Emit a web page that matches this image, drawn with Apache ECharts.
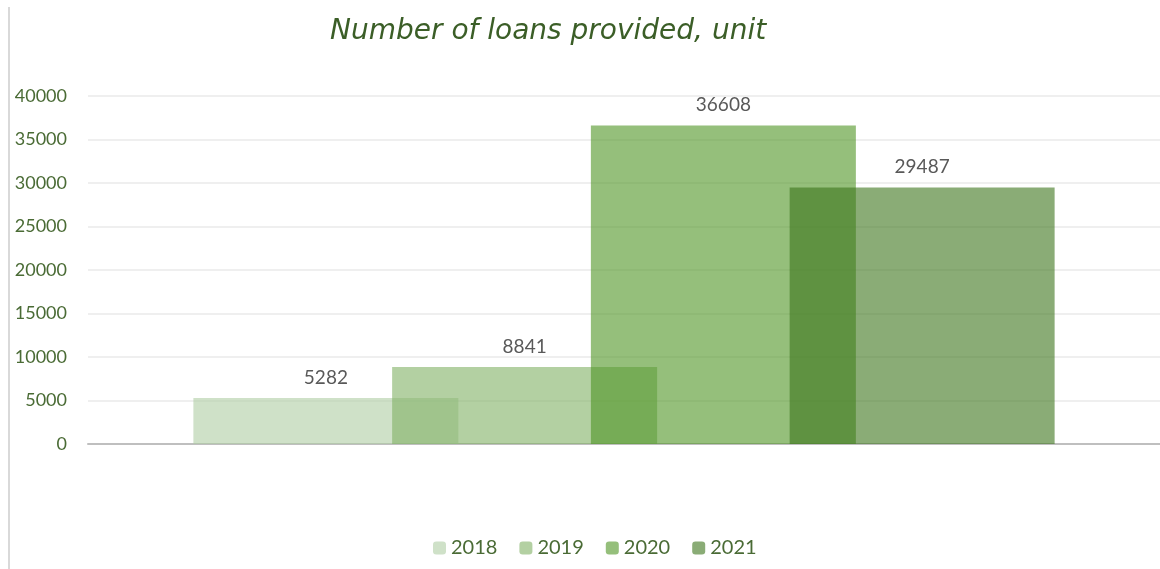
<!DOCTYPE html>
<html>
<head>
<meta charset="utf-8">
<script src="https://cdn.jsdelivr.net/npm/echarts@6/dist/echarts.min.js"></script>
<style>
  html, body { margin: 0; padding: 0; background: #fff; }
  #frame { position: absolute; left: 8px; top: 7px; width: 2px; height: 562px; background: #d9d9d9; }
  #chart { width: 1160px; height: 569px; }
</style>
</head>
<body>
<div id="chart"></div>
<div id="frame"></div>
<script>
// data
var categories = ['']
var years = ['2018', '2019', '2020', '2021']
var loans2018 = [5282]
var loans2019 = [8841]
var loans2020 = [36608]
var loans2021 = [29487]
var seriesColors = ['rgba(175,205,163,0.6)', 'rgba(128,177,100,0.6)', 'rgba(78,148,35,0.6)', 'rgba(60,116,26,0.6)']

var chart = echarts.init(document.getElementById('chart'))

function makeBar(name, values, color) {
  return {
    name: name,
    type: 'bar',
    data: values,
    barWidth: 265,
    barGap: '-25%',
    itemStyle: { color: color },
    label: {
      show: true,
      position: 'top',
      distance: 11,
      color: '#595959',
      fontSize: 19,
      fontFamily: 'Lato'
    }
  }
}

chart.setOption({
  animation: false,
  title: {
    text: 'Number of loans provided, unit',
    left: 325,
    top: 13,
    textStyle: {
      color: '#3b5e27',
      fontSize: 28,
      fontStyle: 'italic',
      fontWeight: 'normal',
      fontFamily: 'DejaVu Sans'
    }
  },
  legend: {
    data: years,
    bottom: 6,
    left: 428,
    itemWidth: 13,
    itemHeight: 13,
    itemGap: 22,
    textStyle: { color: '#4a6b35', fontSize: 20, fontFamily: 'Lato' }
  },
  grid: { left: 88, right: 0, top: 96, bottom: 125, containLabel: false },
  xAxis: {
    type: 'category',
    data: categories,
    axisTick: { show: false },
    axisLabel: { show: false },
    axisLine: { lineStyle: { color: '#bfbfbf', width: 2 } }
  },
  yAxis: {
    type: 'value',
    min: 0,
    max: 40000,
    interval: 5000,
    axisLine: { show: false },
    axisTick: { show: false },
    axisLabel: {
      color: '#4a6b35',
      fontSize: 18,
      margin: 21,
      fontFamily: 'Lato',
      formatter: function (v) { return String(v) }
    },
    splitLine: { lineStyle: { color: '#efefef', width: 2 } }
  },
  series: [
    makeBar(years[0], loans2018, seriesColors[0]),
    makeBar(years[1], loans2019, seriesColors[1]),
    makeBar(years[2], loans2020, seriesColors[2]),
    makeBar(years[3], loans2021, seriesColors[3])
  ]
})
</script>
</body>
</html>
